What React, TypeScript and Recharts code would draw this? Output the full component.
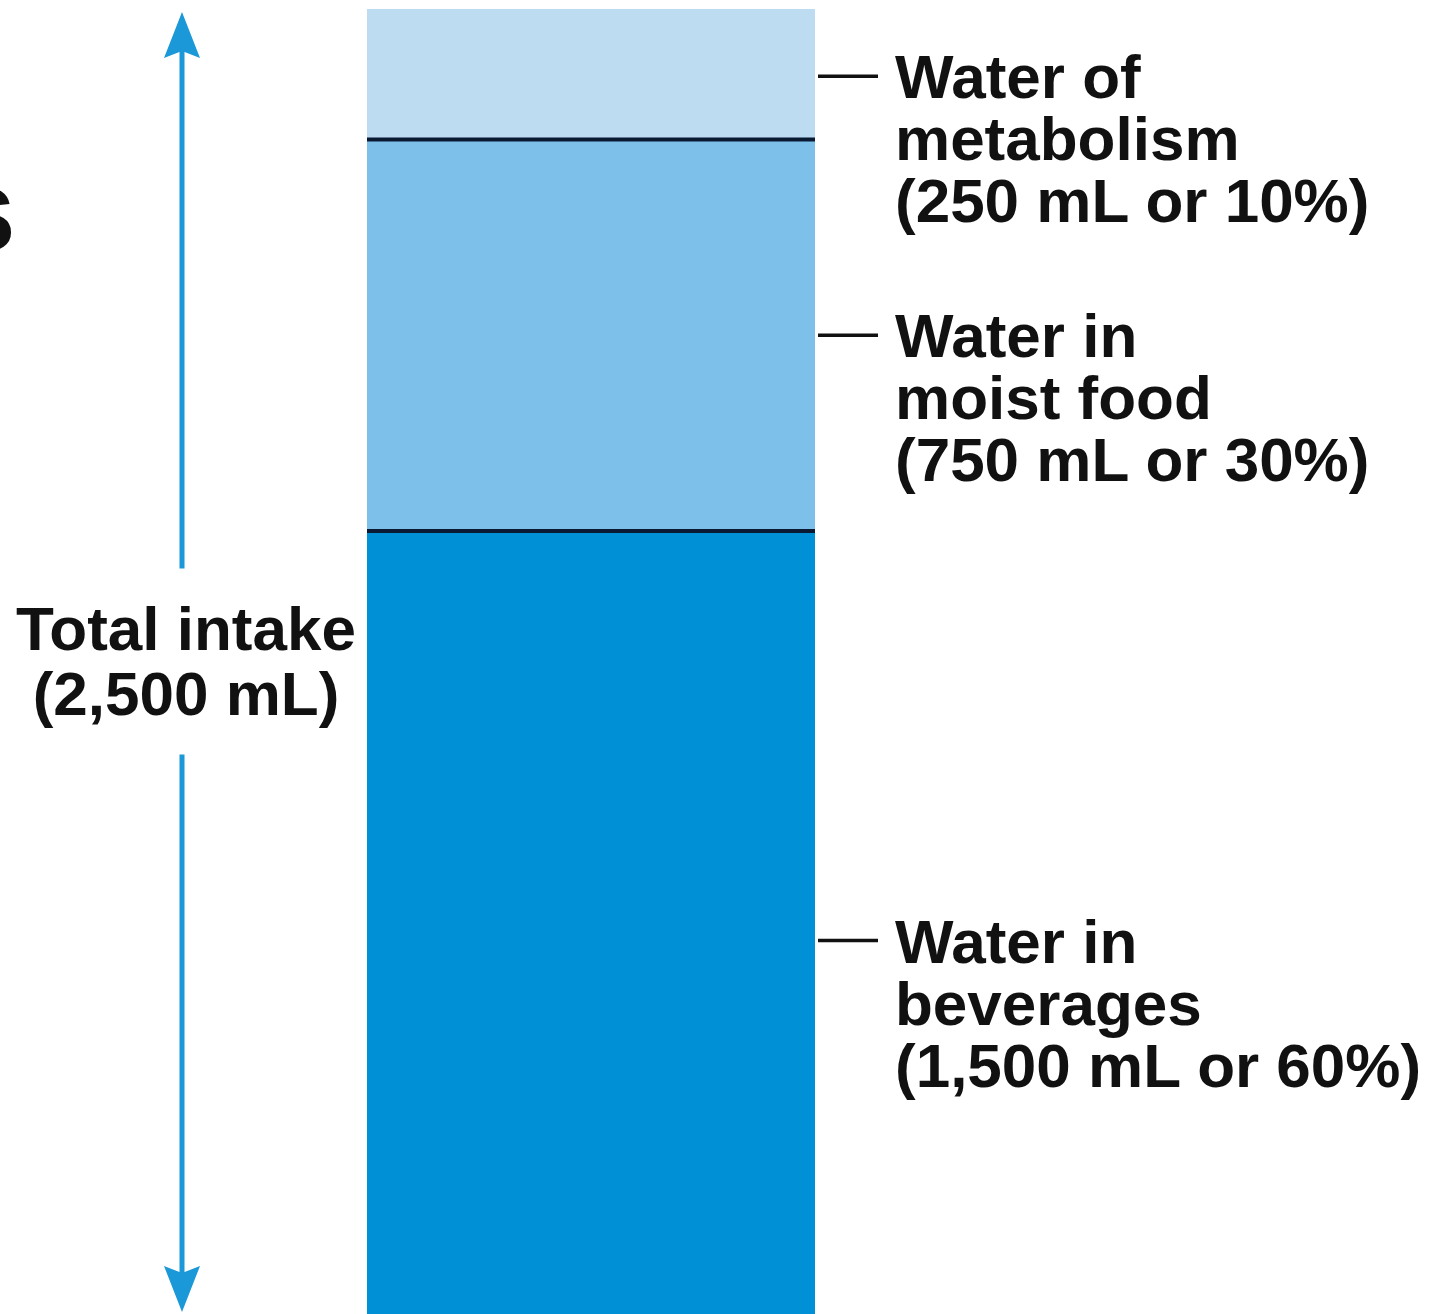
import { BarChart, Bar, XAxis, YAxis, ReferenceArea } from 'recharts';

// daily water intake, stacked from the bottom up
const categories = ['intake'];
const beverages = [1500];
const moistFood = [750];
const metabolism = [250];
const totalIntake = [2500];

const beverageLines = ['Water in', 'beverages', '(1,500 mL or 60%)'];
const foodLines = ['Water in', 'moist food', '(750 mL or 30%)'];
const metabolismLines = ['Water of', 'metabolism', '(250 mL or 10%)'];
const totalLines = ['Total intake', '(2,500 mL)'];

const chartData = categories.map((name, i) => ({
    name,
    beverages: beverages[i],
    moistFood: moistFood[i],
    metabolism: metabolism[i],
}));

const FONT = '"Liberation Sans", Arial, Helvetica, sans-serif';
const TEXT_SIZE = 62;
const LINE_GAP = 62;
const ARROW_COLOR = '#1b98d7';

// segment rect with a dark divider along its bottom edge
const SegmentShape = (props: any) => {
    const { x, y, width, height, fill, divider } = props;
    return (
        <g>
            <rect x={x} y={y} width={width} height={height} fill={fill} />
            {divider && (
                <line
                    x1={x}
                    x2={x + width}
                    y1={y + height}
                    y2={y + height}
                    stroke="#0b1a33"
                    strokeWidth={4}
                />
            )}
        </g>
    );
};

const makeLabel = (lines: string[], nudge: number) => (props: any) => {
    const { x, y, width, height } = props;
    const right = x + width;
    const lineY = y + height / 2 + nudge;
    return (
        <g>
            <line x1={right + 3} x2={right + 63} y1={lineY} y2={lineY} stroke="#111" strokeWidth={3.5} />
            <text
                x={right + 80}
                y={lineY + 22}
                fontFamily={FONT}
                fontWeight="bold"
                fontSize={TEXT_SIZE}
                fill="#111"
            >
                {lines.map((t, i) => (
                    <tspan key={i} x={right + 80} dy={i === 0 ? 0 : LINE_GAP}>
                        {t}
                    </tspan>
                ))}
            </text>
        </g>
    );
};

// double headed arrow to the left of the bar, spanning the whole total
const TotalArrow = (props: any) => {
    const vb = props.viewBox || {};
    const ax = vb.x - 185;
    const top = vb.y + 3;
    const bottom = vb.y + vb.height - 2;
    const mid = vb.y + vb.height / 2;
    const head = 46;
    return (
        <g>
            <polygon
                points={`${ax},${top} ${ax + 18},${top + head} ${ax},${top + head - 7} ${ax - 18},${top + head}`}
                fill={ARROW_COLOR}
            />
            <line x1={ax} x2={ax} y1={top + head - 8} y2={mid - 93} stroke={ARROW_COLOR} strokeWidth={5} />
            <line x1={ax} x2={ax} y1={mid + 93} y2={bottom - head + 8} stroke={ARROW_COLOR} strokeWidth={5} />
            <polygon
                points={`${ax},${bottom} ${ax + 18},${bottom - head} ${ax},${bottom - head + 7} ${ax - 18},${bottom - head}`}
                fill={ARROW_COLOR}
            />
            <text
                x={ax + 4}
                y={mid - 12}
                textAnchor="middle"
                fontFamily={FONT}
                fontWeight="bold"
                fontSize={TEXT_SIZE}
                fill="#111"
            >
                {totalLines.map((t, i) => (
                    <tspan key={i} x={ax + 4} dy={i === 0 ? 0 : 65}>
                        {t}
                    </tspan>
                ))}
            </text>
        </g>
    );
};

export default function App() {
    return (
        <div
            style={{
                position: 'absolute',
                left: 0,
                top: 0,
                width: 1437,
                height: 1314,
                background: '#fff',
                overflow: 'hidden',
            }}
        >
            <BarChart
                width={1437}
                height={1314}
                data={chartData}
                margin={{ top: 9, right: 622, bottom: 0, left: 367 }}
                barCategoryGap={0}
            >
                <XAxis dataKey="name" hide />
                <YAxis hide domain={[0, totalIntake[0]]} />
                <Bar
                    dataKey="beverages"
                    stackId="water"
                    fill="#0090d5"
                    isAnimationActive={false}
                    shape={(p: any) => <SegmentShape {...p} />}
                    label={makeLabel(beverageLines, 18)}
                />
                <Bar
                    dataKey="moistFood"
                    stackId="water"
                    fill="#7dc0ea"
                    isAnimationActive={false}
                    shape={(p: any) => <SegmentShape {...p} divider />}
                    label={makeLabel(foodLines, 0)}
                />
                <Bar
                    dataKey="metabolism"
                    stackId="water"
                    fill="#bddcf2"
                    isAnimationActive={false}
                    shape={(p: any) => <SegmentShape {...p} divider />}
                    label={makeLabel(metabolismLines, 2)}
                />
                <ReferenceArea
                    y1={0}
                    y2={totalIntake[0]}
                    fill="none"
                    fillOpacity={0}
                    stroke="none"
                    label={(p: any) => <TotalArrow {...p} />}
                />
            </BarChart>
            {/* tail of a heading cut off at the left edge */}
            <div
                style={{
                    position: 'absolute',
                    right: 1421,
                    top: 140,
                    fontFamily: FONT,
                    fontWeight: 'bold',
                    fontSize: 118,
                    lineHeight: '140px',
                    color: '#111',
                    whiteSpace: 'nowrap',
                }}
            >
                s
            </div>
        </div>
    );
}
